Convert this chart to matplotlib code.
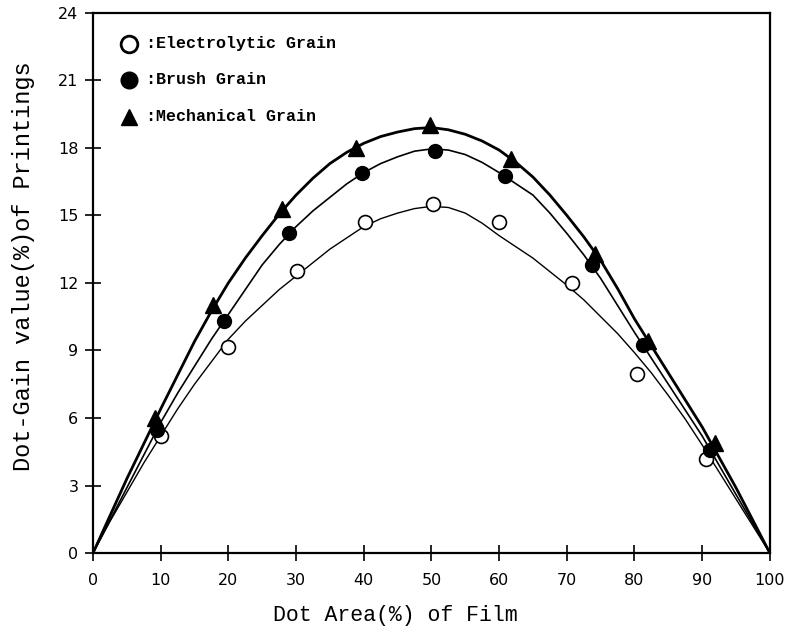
import numpy as np
import matplotlib
matplotlib.use("Agg")
import matplotlib.pyplot as plt

# curve values (every 2.5% dot area)
curveX = list(np.arange(0, 100.1, 2.5))
electroCurve = [0, 1.4, 2.7, 4.0, 5.2, 6.4, 7.5, 8.5, 9.5, 10.3, 11.0, 11.7, 12.3, 12.9, 13.5, 14.0,
                14.5, 14.85, 15.1, 15.3, 15.4, 15.35, 15.1, 14.65, 14.1, 13.6, 13.1, 12.5, 11.9, 11.25,
                10.5, 9.75, 8.9, 8.0, 7.0, 5.95, 4.8, 3.6, 2.4, 1.2, 0]
brushCurve = [0, 1.45, 2.9, 4.35, 5.8, 7.1, 8.3, 9.5, 10.6, 11.7, 12.8, 13.7, 14.5, 15.2, 15.8, 16.4,
              16.9, 17.3, 17.6, 17.85, 17.95, 17.9, 17.7, 17.35, 16.9, 16.4, 15.9, 15.1, 14.2, 13.25,
              12.2, 11.0, 9.8, 8.65, 7.5, 6.35, 5.2, 3.9, 2.6, 1.3, 0]
mechCurve = [0, 1.65, 3.3, 4.85, 6.4, 7.9, 9.4, 10.75, 12.0, 13.1, 14.1, 15.05, 15.9, 16.65, 17.3, 17.8,
             18.2, 18.5, 18.7, 18.85, 18.9, 18.8, 18.6, 18.3, 17.9, 17.35, 16.7, 15.9, 15.0, 14.05,
             13.0, 11.75, 10.4, 9.2, 8.0, 6.8, 5.6, 4.25, 2.9, 1.45, 0]

# measured points
electroX = [10.1, 19.9, 30.1, 40.2, 50.3, 60.0, 70.7, 80.4, 90.5]
electroY = [5.2, 9.15, 12.55, 14.7, 15.5, 14.7, 12.0, 7.95, 4.16]
brushX = [9.4, 19.3, 28.9, 39.7, 50.6, 60.8, 73.7, 81.3, 91.1]
brushY = [5.47, 10.3, 14.2, 16.9, 17.85, 16.75, 12.8, 9.24, 4.58]
mechX = [9.2, 17.8, 27.9, 38.9, 49.8, 61.8, 74.2, 82.0, 91.9]
mechY = [6.0, 11.0, 15.3, 18.0, 19.0, 17.5, 13.3, 9.4, 4.87]

legendLabels = [":Electrolytic Grain", ":Brush Grain", ":Mechanical Grain"]

fig = plt.figure(figsize=(7.88, 6.35), dpi=100)
ax = fig.add_axes([0.118, 0.129, 0.859, 0.851])

# fitted curves
ax.plot(curveX, electroCurve, color="black", lw=1.0)
ax.plot(curveX, brushCurve, color="black", lw=1.2)
ax.plot(curveX, mechCurve, color="black", lw=2.0)

# data points
ax.plot(electroX, electroY, "o", ms=10, mfc="white", mec="black", mew=1.2)
ax.plot(brushX, brushY, "o", ms=10, color="black")
ax.plot(mechX, mechY, "^", ms=11, color="black")

# legend drawn by hand, like the original
legendY = [0.943, 0.876, 0.807]
legendStyles = [dict(marker="o", ms=12, mfc="white", mec="black", mew=2),
                dict(marker="o", ms=12, color="black"),
                dict(marker="^", ms=12, color="black")]
for yy, lab, st in zip(legendY, legendLabels, legendStyles):
  ax.plot([0.053], [yy], transform=ax.transAxes, ls="none", **st)
  ax.text(0.079, yy, lab, transform=ax.transAxes, va="center", ha="left",
          family="Liberation Mono", fontsize=12, fontweight="bold")

ax.set_xlim(0, 100)
ax.set_ylim(0, 24)
ax.set_xticks(np.arange(0, 101, 10))
ax.set_yticks(np.arange(0, 25, 3))
ax.tick_params(direction="inout", length=11, width=1.2, labelsize=11.5)
ax.tick_params(axis="x", pad=9)
ax.tick_params(axis="y", pad=5)
for s in ax.spines.values():
  s.set_linewidth(1.6)

ax.set_xlabel("Dot Area(%) of Film", family="Liberation Mono", fontsize=15.5)
ax.xaxis.set_label_coords(0.446, -0.096)
ax.set_ylabel("Dot-Gain value(%)of Printings", family="Liberation Mono", fontsize=17)
ax.yaxis.set_label_coords(-0.085, 0.53)

fig.savefig("out.png", dpi=100)
